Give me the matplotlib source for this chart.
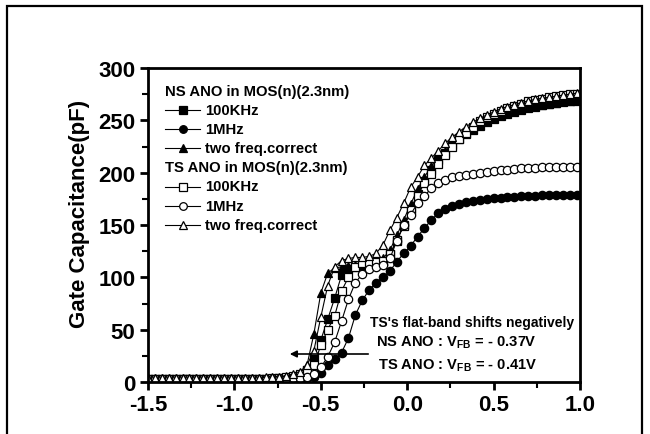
import numpy as np
import matplotlib
matplotlib.use("Agg")
import matplotlib.pyplot as plt
from matplotlib.lines import Line2D
from matplotlib.patches import Rectangle

plt.rcParams["font.family"] = ["Liberation Sans", "DejaVu Sans"]
plt.rcParams["font.weight"] = "bold"
plt.rcParams["mathtext.fontset"] = "custom"
plt.rcParams["mathtext.rm"] = "Liberation Sans:bold"
plt.rcParams["mathtext.bf"] = "Liberation Sans:bold"

# gate bias sweep (V)
vg = [-1.50, -1.46, -1.42, -1.38, -1.34, -1.30, -1.26, -1.22, -1.18, -1.14,
      -1.10, -1.06, -1.02, -0.98, -0.94, -0.90, -0.86, -0.82, -0.78, -0.74,
      -0.70, -0.66, -0.62, -0.58, -0.54, -0.50, -0.46, -0.42, -0.38, -0.34,
      -0.30, -0.26, -0.22, -0.18, -0.14, -0.10, -0.06, -0.02, 0.02, 0.06,
      0.10, 0.14, 0.18, 0.22, 0.26, 0.30, 0.34, 0.38, 0.42, 0.46,
      0.50, 0.54, 0.58, 0.62, 0.66, 0.70, 0.74, 0.78, 0.82, 0.86,
      0.90, 0.94, 0.98]

# NS ANO (filled markers), capacitance in pF
ns_100k = [2.5, 2.5, 2.5, 2.5, 2.5, 2.5, 2.5, 2.5, 2.5, 2.5,
           2.5, 2.5, 2.5, 2.5, 2.5, 2.5, 2.5, 2.5, 3, 3.5,
           4, 5, 7, 11, 24, 40, 60, 80, 102, 108,
           110, 111, 112, 113, 115, 122, 135, 150, 165, 180,
           192, 203, 212, 219, 226, 232, 237, 241, 245, 248,
           251, 254, 256, 258, 260, 262, 263, 264.5, 265.5, 266.5,
           267.5, 268, 268.5]
ns_1m = [2, 2, 2, 2, 2, 2, 2, 2, 2, 2,
         2, 2, 2, 2, 2, 2, 2, 2, 2, 2,
         2.5, 3, 3.5, 4, 5, 9, 16, 22, 28, 42,
         64, 78, 88, 95, 100, 106, 115, 123, 130, 139,
         147, 155, 161, 165, 168, 170, 171.5, 173, 174, 175,
         175.5, 176, 176.5, 177, 177.5, 178, 178, 178.5, 178.5, 179,
         179, 179, 179]
ns_2f = [3, 3, 3, 3, 3, 3, 3, 3, 3, 3,
         3, 3, 3, 3, 3, 3, 3, 3, 3.5, 4,
         5, 6, 9, 16, 46, 85, 104, 109, 110, 111,
         112, 113, 114, 116, 118, 126, 140, 155, 170, 184,
         196, 206, 214, 221, 228, 233, 238, 242, 246, 249,
         252, 255, 257, 259, 261, 263, 264, 265, 266, 267,
         268, 268.5, 269]

# TS ANO (open markers)
ts_100k = [3, 3, 3, 3, 3, 3, 3, 3, 3, 3,
           3, 3, 3, 3, 3, 3, 3, 3, 3.5, 4,
           5, 6, 8, 11, 16, 35, 50, 63, 87, 100,
           110, 114, 114, 115, 116, 122, 136, 149, 164, 178,
           190, 199, 208, 217, 225, 232, 238, 244, 249, 253,
           256, 259, 262, 264, 266, 268, 269, 270.5, 272, 273,
           274, 275, 275.5]
ts_1m = [2.5, 2.5, 2.5, 2.5, 2.5, 2.5, 2.5, 2.5, 2.5, 2.5,
         2.5, 2.5, 2.5, 2.5, 2.5, 2.5, 2.5, 2.5, 2.5, 3,
         3, 3.5, 4, 5, 8, 14, 24, 38, 58, 79,
         95, 103, 108, 110, 112, 118, 135, 150, 160, 171,
         178, 185, 190, 193, 195.5, 197, 198, 199, 200, 201,
         202, 202.5, 203, 203.5, 204, 204, 204.5, 205, 205, 205,
         205.5, 205.5, 205.5]
ts_2f = [4, 4, 4, 4, 4, 4, 4, 4, 4, 4,
         4, 4, 4, 4, 4, 4, 4, 4.5, 5, 5,
         6, 8, 10, 16, 30, 62, 92, 110, 116, 118,
         119, 119, 120, 123, 131, 145, 157, 171, 186, 196,
         207, 214, 221, 228, 234, 239, 244, 248, 252, 255,
         258, 261, 263, 265, 267, 268.5, 270, 271, 272, 273,
         274, 275, 276]

fig = plt.figure(figsize=(6.5, 4.35), dpi=100)
ax = fig.add_axes([148 / 650, 1 - 383 / 435, 432 / 650, 314 / 435])

series = [
    (ns_100k, "s", "black"),
    (ns_1m, "o", "black"),
    (ns_2f, "^", "black"),
    (ts_100k, "s", "white"),
    (ts_1m, "o", "white"),
    (ts_2f, "^", "white"),
]
for vals, mk, fc in series:
    ax.plot(vg, vals, "-", color="black", lw=0.8, marker=mk, ms=6,
            mfc=fc, mec="black", mew=0.9, clip_on=True)

ax.set_xlim(-1.5, 1.0)
ax.set_ylim(0, 300)
ax.set_xticks([-1.5, -1.0, -0.5, 0.0, 0.5, 1.0])
ax.set_xticks([-1.25, -0.75, -0.25, 0.25, 0.75], minor=True)
ax.set_yticks([0, 50, 100, 150, 200, 250, 300])
ax.set_yticks([25, 75, 125, 175, 225, 275], minor=True)
ax.set_xticklabels(["-1.5", "-1.0", "-0.5", "0.0", "0.5", "1.0"])
ax.tick_params(which="major", direction="out", length=6, width=2,
               labelsize=16, pad=3)
ax.tick_params(which="minor", direction="out", length=4, width=1.5)
for s in ax.spines.values():
    s.set_linewidth(2)
for lab in ax.get_xticklabels() + ax.get_yticklabels():
    lab.set_fontweight("bold")

fig.text(79 / 650, 1 - 214 / 435, "Gate Capacitance(pF)", rotation=90,
         ha="center", va="center", fontsize=16, fontweight="bold")


# legend drawn by hand: two headed groups
def px(x, y):
    return (x - 148) / 432, (383 - y) / 314


rows = [
    ("NS ANO in MOS(n)(2.3nm)", None, None),
    ("100KHz", "s", "black"),
    ("1MHz", "o", "black"),
    ("two freq.correct", "^", "black"),
    ("TS ANO in MOS(n)(2.3nm)", None, None),
    ("100KHz", "s", "white"),
    ("1MHz", "o", "white"),
    ("two freq.correct", "^", "white"),
]
for k, (label, mk, fc) in enumerate(rows):
    y = 92 + k * 19.1
    if mk is None:
        tx, ty = px(165, y)
        ax.text(tx, ty, label, transform=ax.transAxes, fontsize=10.7,
                fontweight="bold", va="center", ha="left")
    else:
        x0, yy = px(165, y)
        x1, _ = px(200, y)
        xm, _ = px(182.5, y)
        ax.add_line(Line2D([x0, x1], [yy, yy], transform=ax.transAxes,
                           color="black", lw=0.8))
        ax.add_line(Line2D([xm], [yy], transform=ax.transAxes, marker=mk,
                           ms=5.5, mfc=fc, mec="black", mew=0.9, ls=""))
        tx, _ = px(205, y)
        ax.text(tx, yy, label, transform=ax.transAxes, fontsize=10.7,
                fontweight="bold", va="center", ha="left")

# flat-band annotation
ax.text(*px(370, 323), "TS's flat-band shifts negatively",
        transform=ax.transAxes, fontsize=10, fontweight="bold",
        va="center", ha="left")
ax.text(*px(376, 343), r"NS ANO : V$_{\rm FB}$ = - 0.37V",
        transform=ax.transAxes, fontsize=10.6, va="center", ha="left")
ax.text(*px(378, 366), r"TS ANO : V$_{\rm FB}$ = - 0.41V",
        transform=ax.transAxes, fontsize=10.6, va="center", ha="left")
ax.annotate("", xy=px(287, 355), xytext=px(371, 355),
            xycoords="axes fraction", textcoords="axes fraction",
            arrowprops=dict(arrowstyle="-|>", color="black", lw=1.2,
                            mutation_scale=10))

# outer frame of the figure
fig.patches.append(Rectangle((7 / 650, -0.05), 635 / 650, 1.05 - 7 / 435,
                             transform=fig.transFigure, fill=False,
                             edgecolor="black", lw=1.6))

fig.savefig("out.png", dpi=100)
